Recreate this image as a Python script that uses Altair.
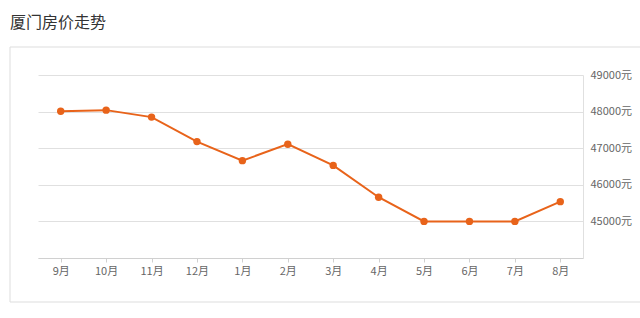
import altair as alt
import pandas as pd

months = ["9月", "10月", "11月", "12月", "1月", "2月", "3月", "4月", "5月", "6月", "7月", "8月"]
prices = [48010, 48040, 47850, 47180, 46660, 47110, 46530, 45660, 45000, 45000, 45000, 45540]
y_ticks = [44000, 45000, 46000, 47000, 48000, 49000]

df = pd.DataFrame({"month": months, "price": prices})
FONT = "Noto Sans CJK SC"
ORANGE = "#e8631a"

x_enc = alt.X("month:N", sort=months, scale=alt.Scale(type="point", padding=0.5),
              axis=alt.Axis(title=None, labelAngle=0, tickSize=4, tickColor="#d0d0d0",
                            domainColor="#d0d0d0", labelColor="#666666", labelFontSize=11,
                            labelFont=FONT, labelPadding=3, grid=False))
y_enc = alt.Y("price:Q", scale=alt.Scale(domain=[44000, 49000], nice=False, zero=False),
              axis=alt.Axis(title=None, orient="right", values=y_ticks,
                            labelExpr="datum.value == 44000 ? '' : datum.value + '元'",
                            grid=True, gridColor="#e0e0e0", ticks=False,
                            domainColor="#e0e0e0", labelColor="#666666", labelFontSize=11,
                            labelFont=FONT, labelPadding=7))

box = alt.Chart(pd.DataFrame({"a": [0]})).mark_rect(fill=None, stroke="#dddddd", strokeWidth=1).encode(
    x=alt.value(-28), x2=alt.value(620), y=alt.value(-28), y2=alt.value(227))

line = alt.Chart(df).mark_line(color=ORANGE, strokeWidth=2).encode(x=x_enc, y=y_enc)
pts = alt.Chart(df).mark_circle(color=ORANGE, opacity=1, size=55).encode(x=x_enc, y=y_enc)

chart = alt.layer(box, line, pts).properties(
    width=545, height=183,
    autosize="none",
    background="white",
    padding={"left": 38, "top": 75, "right": 57, "bottom": 60},
    title=alt.TitleParams("厦门房价走势", anchor="start", frame="group", dx=-28, offset=16,
                          fontSize=16, font=FONT, fontWeight="normal", color="#333333"),
).configure_view(stroke=None, strokeWidth=0)

chart.save("out.html", embed_options={"renderer": "svg", "actions": False})
